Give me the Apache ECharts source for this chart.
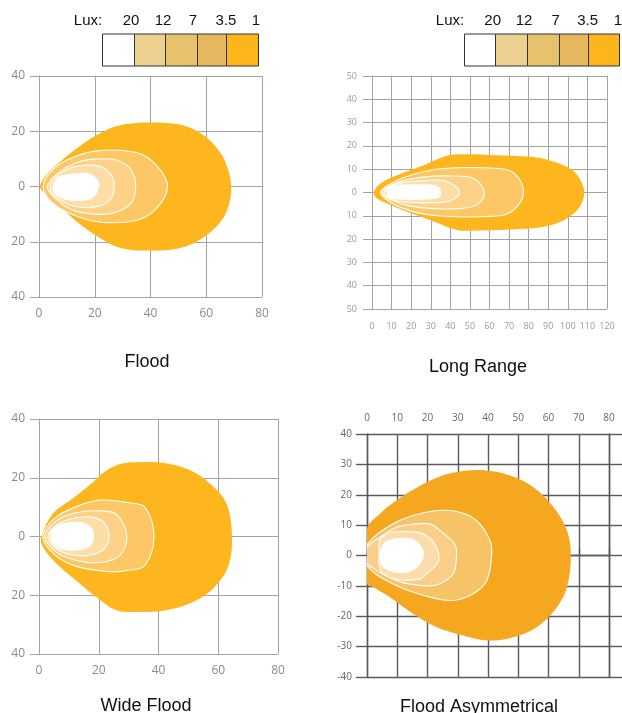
<!DOCTYPE html>
<html><head><meta charset="utf-8">
<script src="https://cdn.jsdelivr.net/npm/echarts@6/dist/echarts.min.js"></script>
<style>html,body{margin:0;padding:0;background:#fff}#c{width:622px;height:713px}</style>
</head><body><div id="c"></div>
<script>
// ---------- data ----------
const luxLevels = ['20', '12', '7', '3.5', '1'];
const panelTitles = ['Flood', 'Long Range', 'Wide Flood', 'Flood Asymmetrical'];

// axis ranges [min, max, interval]
const floodX = [0, 80, 20], floodY = [-40, 40, 20];
const longX = [0, 120, 10], longY = [-50, 50, 10];
const wideX = [0, 80, 20], wideY = [-40, 40, 20];
const asymX = [0, 80, 10], asymY = [-40, 40, 10];

// Flood contours (m)
const floodL1 = [[0.4,0],[3,4.6],[7.5,8.9],[15.9,15.6],[25.4,21],[31.4,22.6],[39.8,23.2],[49.3,22.6],[56.5,20.2],[62.4,15.6],[66.6,9.5],[69,0],[67.5,-8.5],[63.6,-14.6],[56.5,-20],[49,-22.6],[40,-23.2],[31,-22.6],[25.4,-20.7],[15.9,-14.6],[6.3,-6.2],[2.5,-2.8]];
const floodL35 = [[1.5,0],[3.9,5],[9.9,9.5],[20.7,12.9],[35,12.3],[42.1,7.7],[46.1,0],[42.1,-8],[35,-12.2],[21.9,-12.9],[11.1,-9.8],[3.9,-5]];
const floodL7 = [[3,0],[7,5],[13,8.5],[20,9.9],[28,9.5],[33,6],[34.7,0],[33,-6],[27,-9.5],[20,-10],[12,-8.5],[6,-4.5]];
const floodL12 = [[4,0],[8,5],[14,7.4],[22,7.2],[26,4],[27,0],[26,-4],[22,-7],[14,-7.4],[7,-4.5]];
const floodL20 = [[4.8,0],[7,3.5],[12,4.7],[18,4.7],[21,2.5],[21.6,0],[20,-3.5],[17,-5],[10,-5],[6,-3]];

// Long Range contours
const longL1 = [[0.85,0],[4.3,3.9],[12.8,7.4],[26.4,11.7],[36.6,15.3],[43.4,16.4],[63.8,16],[80.9,15.3],[89.4,14.1],[99.6,11],[105.5,6.7],[108.4,0],[105.5,-6.9],[97.9,-11.9],[87.7,-14.7],[70.6,-15.9],[50.2,-16.4],[43.4,-16.1],[29.8,-11.9],[17.9,-8.3],[7.7,-4.7],[2.6,-2.6]];
const longL35 = [[4.3,0],[10,4],[20,7.5],[35,10.2],[65,10.3],[73,8],[77.4,0],[73,-7],[65,-10],[35,-10.1],[20,-8],[10,-4.5]];
const longL7 = [[5,0],[12,4],[25,6.5],[40,7.1],[52,6],[57.4,0],[54,-5],[45,-6.9],[25,-6.5],[12,-4]];
const longL12 = [[6,0],[12,3.5],[25,5],[38,4.8],[44.8,0],[40,-3.5],[30,-4.4],[15,-4],[9,-2.5]];
const longL20 = [[7.1,0],[9,2.5],[15,3.4],[30,3.4],[34,2.5],[35.4,0],[34,-2.3],[28,-3],[13,-3],[8.5,-2]];

// Wide Flood contours
const wideL1 = [[0.8,0],[4.7,7.8],[11.4,13],[16.9,17.5],[22.5,22.4],[28.1,24.9],[33.7,25.3],[41.5,25.1],[50.4,22.6],[57.1,18.1],[62.7,11.3],[64.6,0],[63.3,-10.3],[58.3,-17.7],[51.6,-22.3],[42.6,-25.1],[33.7,-25.7],[25.9,-25.1],[19.2,-20.6],[13.6,-16],[5.8,-9.2],[1.3,-3.5]];
const wideL35 = [[1.3,0],[5,6],[12,10],[20.3,12.4],[30,11.5],[35.5,9.9],[38.5,0],[35.5,-9.8],[30,-11.5],[23.7,-12],[12,-10],[5,-6]];
const wideL7 = [[2,0],[6,5.5],[12,8],[20,8.75],[26,7.5],[29.4,0],[27,-6.5],[20,-8.9],[12,-8],[6,-5.5]];
const wideL12 = [[3,0],[6,4],[12,6.3],[18,6.5],[22,4.5],[23.4,0],[22,-4],[17,-6.4],[10,-6],[5,-3.5]];
const wideL20 = [[3.6,0],[5,3],[9,4.7],[15,4.7],[18,2.5],[18.4,0],[17.5,-3],[14,-4.6],[8,-4.6],[5,-3]];

// Flood Asymmetrical contours
const asymL1 = [[0,8.8],[4.2,13.7],[9.7,18.1],[16.4,22.3],[24.1,26],[31.8,27.8],[39.6,28],[47.3,26.3],[55,22.5],[61.7,15.9],[66.1,8.2],[67.4,0],[66.1,-10.4],[62.8,-17],[56.1,-23.6],[48.3,-26.9],[40.1,-28],[31.8,-26.3],[23,-23.6],[15.2,-19.2],[7.5,-13.7],[2,-10.4],[0,-9.1]];
const asymL35 = [[0,3.5],[9.7,11],[20.8,14.5],[29.6,14.5],[36.2,11.5],[40.7,4.9],[41.2,0],[39.6,-8.2],[35.1,-12.6],[28.5,-14.8],[20.8,-13.7],[9.7,-9.9],[0,-3.3]];
const asymL7 = [[0,2.5],[5,6.5],[9.7,9.3],[15,10.3],[20.8,10.4],[24.1,8.2],[29,3.8],[29.6,0],[28.5,-6],[24.1,-9.3],[20.8,-10],[15,-9.5],[9.7,-8.2],[0,-2.5]];
const asymL12 = [[4,0],[4.2,5],[7,7.2],[10,7.8],[17,7.6],[20.5,6],[22.5,3.5],[23.8,0],[23.2,-2.7],[19.7,-6],[17.5,-7.7],[10,-7.9],[5.3,-6],[4,-3]];
const asymL20 = [[4.2,0.5],[6,4.5],[11,5.8],[16,5],[18.5,2],[18.8,0],[17.5,-3],[14,-5.5],[9,-5.5],[5,-3.5]];

// ---------- styling ----------
const legendColors = ['#ffffff', '#ECD190', '#E8C16D', '#E6B961', '#FDB51C'];
const fillStd = ['#FDB61E', '#FCC764', '#FDD287', '#FEDDA6', '#FFFFFF'];
const fillAsym = ['#F5A81F', '#F6C466', '#F9CF88', '#FCDCAA', '#FFFFFF'];

function contour(panel, pts, fill, stroke, z) {
  return {
    type: 'custom', xAxisIndex: panel, yAxisIndex: panel, data: pts, clip: true,
    silent: true, animation: false, z: z,
    renderItem: function (params, api) {
      if (params.dataIndex !== 0) return null;
      return {
        type: 'polygon',
        shape: { points: pts.map(p => api.coord(p)), smooth: 0.35 },
        style: { fill: fill, stroke: stroke || null, lineWidth: 1.1 }
      };
    }
  };
}

function panelSeries(panel, levels, fills) {
  return levels.map((pts, k) => contour(panel, pts, fills[k], (k > 0 && k < 4) ? '#ffffff' : null, 2 + k));
}

const gridColor = '#a3a3a3';
function xAx(i, r, o) {
  return Object.assign({
    type: 'value', gridIndex: i, min: r[0], max: r[1], interval: r[2],
    axisLine: { show: true, lineStyle: { color: gridColor, width: 1 } },
    axisTick: { show: true, length: 4, lineStyle: { color: gridColor } },
    splitLine: { show: true, lineStyle: { color: gridColor, width: 1 } },
    axisLabel: { color: '#8a8a8a', fontSize: 12, fontFamily: 'Open Sans', margin: 8 }
  }, o || {});
}
function yAx(i, r, o) {
  return Object.assign({
    type: 'value', gridIndex: i, min: r[0], max: r[1], interval: r[2],
    axisLine: { show: true, lineStyle: { color: gridColor, width: 1 } },
    axisTick: { show: true, length: 9, lineStyle: { color: gridColor } },
    splitLine: { show: true, lineStyle: { color: gridColor, width: 1 } },
    axisLabel: { color: '#8a8a8a', fontSize: 12, fontFamily: 'Open Sans', margin: 14, formatter: v => String(Math.abs(v)) }
  }, o || {});
}

const darkGrid = '#5a5a5a';
const asymLine = { color: darkGrid, width: 1.4 };

const option = {
  animation: false,
  backgroundColor: '#ffffff',
  grid: [
    { left: 39, top: 76, width: 223, height: 221, outerBoundsMode: 'none' },
    { left: 372, top: 76, width: 235, height: 233, outerBoundsMode: 'none' },
    { left: 39, top: 419, width: 239, height: 235, outerBoundsMode: 'none' },
    { left: 367, top: 434, width: 242, height: 243, outerBoundsMode: 'none' }
  ],
  xAxis: [
    xAx(0, floodX, { axisLabel: { color: '#8a8a8a', fontSize: 12, fontFamily: 'Open Sans', margin: 11 } }),
    xAx(1, longX, { axisLabel: { color: '#9a9a9a', fontSize: 9, fontFamily: 'Open Sans', margin: 13 } }),
    xAx(2, wideX, { axisLabel: { color: '#8a8a8a', fontSize: 12, fontFamily: 'Open Sans', margin: 11 } }),
    xAx(3, asymX, {
      position: 'top',
      axisLine: { show: true, lineStyle: asymLine },
      axisTick: { show: true, length: 8, lineStyle: asymLine },
      splitLine: { show: true, lineStyle: asymLine },
      axisLabel: { color: '#666', fontSize: 10, fontFamily: 'Open Sans', margin: 11 }
    })
  ],
  yAxis: [
    yAx(0, floodY),
    yAx(1, longY, { axisLabel: { color: '#9a9a9a', fontSize: 9, fontFamily: 'Open Sans', margin: 15, formatter: v => String(Math.abs(v)) } }),
    yAx(2, wideY),
    yAx(3, asymY, {
      axisLine: { show: true, lineStyle: asymLine },
      axisTick: { show: true, length: 11, lineStyle: asymLine },
      splitLine: { show: true, lineStyle: asymLine },
      axisLabel: { color: '#666', fontSize: 10, fontFamily: 'Open Sans', margin: 15 }
    }),
    yAx(3, asymY, {
      position: 'right',
      axisLine: { show: true, lineStyle: asymLine },
      axisTick: { show: true, length: 13, lineStyle: asymLine },
      splitLine: { show: false },
      axisLabel: { show: false }
    })
  ],
  series: [].concat(
    panelSeries(0, [floodL1, floodL35, floodL7, floodL12, floodL20], fillStd),
    panelSeries(1, [longL1, longL35, longL7, longL12, longL20], fillStd),
    panelSeries(2, [wideL1, wideL35, wideL7, wideL12, wideL20], fillStd),
    panelSeries(3, [asymL1, asymL35, asymL7, asymL12, asymL20], fillAsym)
  ),
  graphic: []
};

// legends
function legend(edges, labelXs, luxX) {
  const els = [];
  const font = '15px "Liberation Sans", Arial, sans-serif';
  els.push({ type: 'text', x: luxX, y: 21, style: { text: 'Lux:', font: font, fill: '#111', align: 'center', verticalAlign: 'middle' } });
  luxLevels.forEach((lv, k) => {
    els.push({ type: 'rect', shape: { x: edges[k], y: 34, width: edges[k + 1] - edges[k], height: 32 },
      style: { fill: legendColors[k], stroke: '#333', lineWidth: 1 } });
    els.push({ type: 'text', x: labelXs[k], y: 21, style: { text: lv, font: font, fill: '#111', align: 'center', verticalAlign: 'middle' } });
  });
  return els;
}
option.graphic = option.graphic.concat(
  legend([102.5, 134.5, 165.5, 197.5, 226.5, 258.5], [131, 163, 193, 226, 256], 88),
  legend([464.5, 495.5, 527.5, 559.5, 588.5, 619.5], [492.7, 524, 555.7, 587.7, 618], 450)
);
const titlePos = [[147, 362], [478, 367], [146, 706], [479, 707]];
panelTitles.forEach((t, k) => {
  option.graphic.push({ type: 'text', x: titlePos[k][0], y: titlePos[k][1],
    style: { text: t, font: '18px "Liberation Sans", Arial, sans-serif', fill: '#111', align: 'center', verticalAlign: 'middle' } });
});

const chart = echarts.init(document.getElementById('c'), null, { renderer: 'canvas' });
chart.setOption(option);
</script>
</body></html>
